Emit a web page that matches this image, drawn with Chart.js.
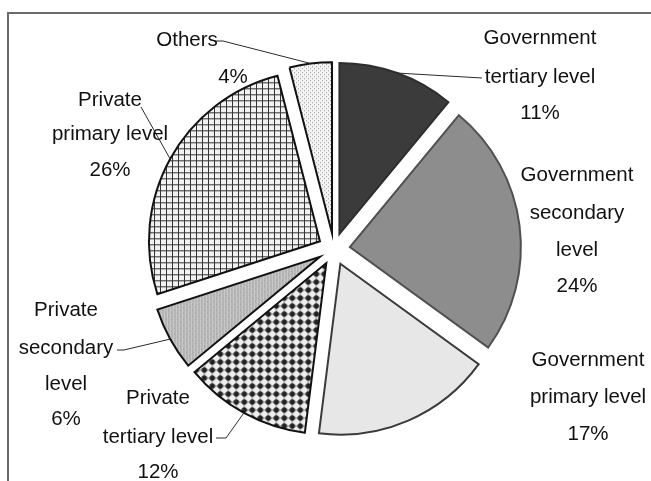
<!DOCTYPE html>
<html>
<head>
<meta charset="utf-8">
<script src="https://cdn.jsdelivr.net/npm/chart.js@4/dist/chart.umd.min.js"></script>
<style>
  body { margin: 0; background: #fff; }
  #wrap { position: relative; width: 651px; height: 481px; }
  #frame {
    position: absolute; left: 7px; top: 12px; right: 0; bottom: 0;
    border-top: 2px solid #6a6a6a; border-left: 2px solid #6a6a6a;
    pointer-events: none;
  }
</style>
</head>
<body>
<div id="wrap">
  <canvas id="pie" width="651" height="481"></canvas>
  <div id="frame"></div>
</div>
<script>
// Expenditure shares by sector, clockwise from 12 o'clock
const CATEGORIES = [
    ['Government', 'tertiary level'],
    ['Government', 'secondary', 'level'],
    ['Government', 'primary level'],
    ['Private', 'tertiary level'],
    ['Private', 'secondary', 'level'],
    ['Private', 'primary level'],
    ['Others']
];
const SHARES = [11, 24, 17, 12, 6, 26, 4];

// How far each slice is pulled out from the centre (px)
const EXPLODE = 16;

// Centre of every text line of each label
const LABEL_POS = [
    [[540, 38], [540, 77], [540, 113]],
    [[577, 175], [577, 213], [577, 250], [577, 286]],
    [[588, 360], [588, 397], [588, 434]],
    [[158, 398], [158, 437], [158, 472]],
    [[66, 310], [66, 348], [66, 384], [66, 419]],
    [[110, 100], [110, 134], [110, 170]],
    [[187, 40], [233, 77]]
];

// Label side of the leader lines; the other end sits on the slice edge
const LEADERS = [
    [[482, 78]],
    null,
    null,
    [[216, 438], [226, 438]],
    [[117, 350], [124, 350]],
    [[141, 107]],
    [[214, 41], [223, 41]]
];

function makePattern(size, paint) {
    const c = document.createElement('canvas');
    c.width = c.height = size;
    const g = c.getContext('2d');
    paint(g, size);
    return g.createPattern(c, 'repeat');
}

// dark dots on a light grid
const checkerFill = makePattern(8, (g, s) => {
    g.fillStyle = '#efefef';
    g.fillRect(0, 0, s, s);
    g.fillStyle = '#7a7a7a';
    g.fillRect(0, 3.5, s, 1);
    g.fillRect(3.5, 0, 1, s);
    g.fillStyle = '#222';
    g.beginPath();
    g.arc(4, 4, 2.7, 0, Math.PI * 2);
    g.fill();
});

// fine grey stipple
const stippleFill = makePattern(6, (g, s) => {
    g.fillStyle = '#b6b6b6';
    g.fillRect(0, 0, s, s);
    g.fillStyle = '#c8c8c8';
    g.fillRect(1, 0, 1, s);
    g.fillRect(4, 0, 1, s);
    g.fillStyle = '#a2a2a2';
    g.fillRect(2, 2, 1, 1);
    g.fillRect(5, 5, 1, 1);
});

// square grid hatch
const gridFill = makePattern(6, (g, s) => {
    g.fillStyle = '#f2f2f2';
    g.fillRect(0, 0, s, s);
    g.fillStyle = '#333';
    g.fillRect(0, 0, s, 1);
    g.fillRect(0, 0, 1, s);
});

// sparse dots
const dotFill = makePattern(4, (g, s) => {
    g.fillStyle = '#f4f4f4';
    g.fillRect(0, 0, s, s);
    g.fillStyle = '#969696';
    g.fillRect(0, 0, 1, 1);
    g.fillRect(2, 2, 1, 1);
});

const FILLS = ['#3b3b3b', '#8d8d8d', '#e7e7e7', checkerFill, stippleFill, gridFill, dotFill];
const EDGES = ['#2e2e2e', '#505050', '#3a3a3a', '#111', '#111', '#111', '#111'];

function bisector(arc) {
    const mid = (arc.startAngle + arc.endAngle) / 2;
    return { cos: Math.cos(mid), sin: Math.sin(mid) };
}

// draw each arc shifted outward along its bisector
const explodePlugin = {
    id: 'explode',
    beforeDatasetDraw(chart, args) {
        const ctx = chart.ctx;
        args.meta.data.forEach(arc => {
            const b = bisector(arc);
            ctx.save();
            ctx.translate(b.cos * EXPLODE, b.sin * EXPLODE);
            arc.draw(ctx, chart.chartArea);
            ctx.restore();
        });
        return false;
    }
};

const labelPlugin = {
    id: 'sliceLabels',
    afterDatasetsDraw(chart) {
        const ctx = chart.ctx;
        const arcs = chart.getDatasetMeta(0).data;
        ctx.save();
        ctx.strokeStyle = '#2a2a2a';
        ctx.lineWidth = 1;
        arcs.forEach((arc, i) => {
            const pts = LEADERS[i];
            if (!pts) return;
            const b = bisector(arc);
            const r = arc.outerRadius + EXPLODE;
            ctx.beginPath();
            ctx.moveTo(pts[0][0], pts[0][1]);
            pts.slice(1).forEach(p => ctx.lineTo(p[0], p[1]));
            ctx.lineTo(arc.x + b.cos * r, arc.y + b.sin * r);
            ctx.stroke();
        });

        ctx.fillStyle = '#111';
        ctx.font = '20.5px "Liberation Sans", Arial, sans-serif';
        ctx.textAlign = 'center';
        ctx.textBaseline = 'middle';
        CATEGORIES.forEach((lines, i) => {
            const text = lines.concat([SHARES[i] + '%']);
            text.forEach((t, k) => {
                const p = LABEL_POS[i][k];
                ctx.fillText(t, p[0], p[1]);
            });
        });
        ctx.restore();
    }
};

new Chart(document.getElementById('pie'), {
    type: 'pie',
    data: {
        labels: CATEGORIES.map(l => l.join(' ')),
        datasets: [{
            data: SHARES,
            backgroundColor: FILLS,
            borderColor: EDGES,
            borderWidth: 2,
            borderJoinStyle: 'miter'
        }]
    },
    options: {
        responsive: false,
        devicePixelRatio: 1,
        animation: false,
        layout: { padding: { left: 100, right: 83, top: 77, bottom: 60 } },
        plugins: {
            legend: { display: false },
            tooltip: { enabled: false }
        }
    },
    plugins: [explodePlugin, labelPlugin]
});
</script>
</body>
</html>
